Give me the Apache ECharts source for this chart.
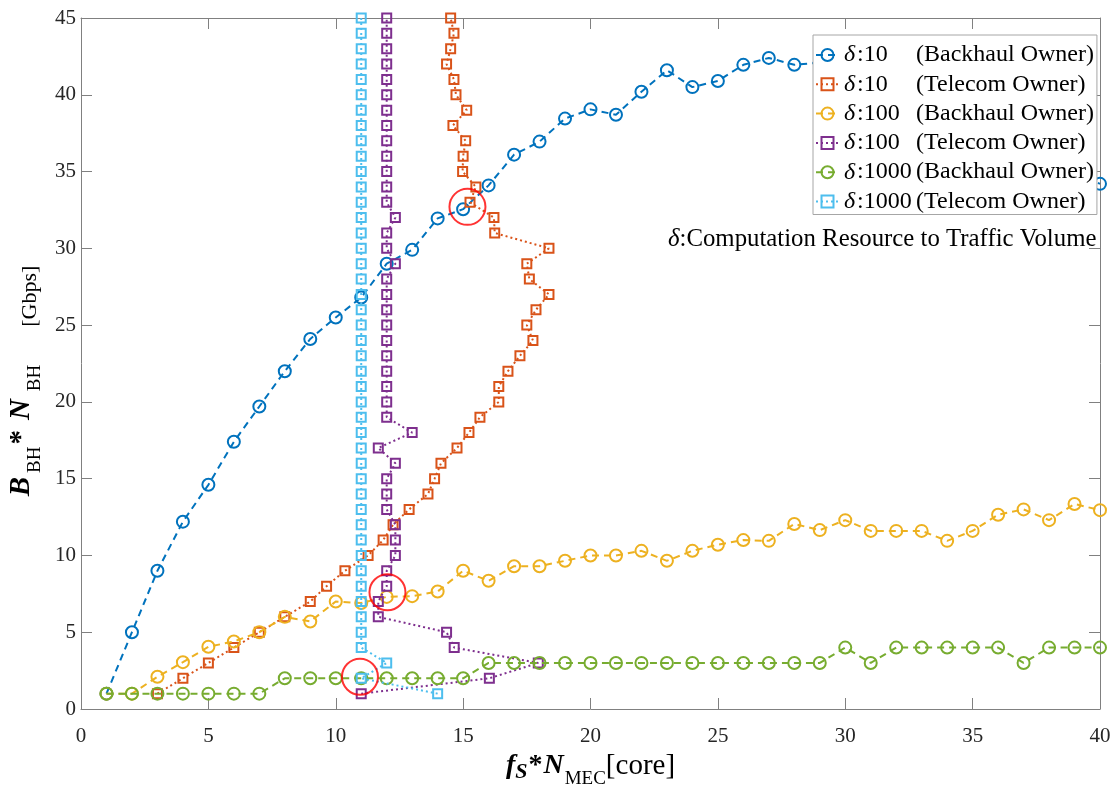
<!DOCTYPE html>
<html>
<head>
<meta charset="utf-8">
<title>Backhaul vs MEC capacity</title>
<script src="https://cdn.jsdelivr.net/npm/echarts@6/dist/echarts.min.js"></script>
<style>
  html, body { margin: 0; padding: 0; background: #ffffff; }
  #chart { width: 1118px; height: 795px; }
</style>
</head>
<body>
<div id="chart"></div>
<script>
// ---- data ---------------------------------------------------------------
// Backhaul-owner curves: backhaul capacity for each MEC core count
const cores = [1, 2, 3, 4, 5, 6, 7, 8, 9, 10, 11, 12, 13, 14, 15, 16, 17, 18, 19, 20,
               21, 22, 23, 24, 25, 26, 27, 28, 29, 30, 31, 32, 33, 34, 35, 36, 37, 38, 39, 40];
const bhDelta10 = [1, 5.0, 9.0, 12.2, 14.6, 17.4, 19.7, 22.0, 24.1, 25.5,
                   26.8, 29.0, 29.9, 31.95, 32.55, 34.1, 36.1, 36.95, 38.45, 39.05,
                   38.7, 40.2, 41.6, 40.5, 40.9, 41.95, 42.4, 41.95, 42.1, 41.8,
                   41.3, 40.6, 39.9, 39.0, 38.2, 37.3, 36.4, 35.6, 34.9, 34.2];
const bhDelta100 = [1, 1, 2.1, 3.05, 4.05, 4.4, 5.0, 6.0, 5.7, 7.0,
                    6.9, 7.3, 7.35, 7.65, 9.0, 8.35, 9.3, 9.3, 9.65, 10.0,
                    10.0, 10.3, 9.65, 10.3, 10.7, 11.0, 10.95, 12.05, 11.65, 12.3,
                    11.6, 11.6, 11.6, 10.95, 11.6, 12.65, 13.0, 12.3, 13.35, 12.95];
const bhDelta1000 = [1, 1, 1, 1, 1, 1, 1, 2, 2, 2,
                     2, 2, 2, 2, 2, 3, 3, 3, 3, 3,
                     3, 3, 3, 3, 3, 3, 3, 3, 3, 4,
                     3, 4, 4, 4, 4, 4, 3, 4, 4, 4];

// Telecom-owner curves: MEC core count chosen for each backhaul capacity level
const bhLevels = [1, 2, 3, 4, 5, 6, 7, 8, 9, 10, 11, 12, 13, 14, 15,
                  16, 17, 18, 19, 20, 21, 22, 23, 24, 25, 26, 27, 28, 29, 30,
                  31, 32, 33, 34, 35, 36, 37, 38, 39, 40, 41, 42, 43, 44, 45];
const telDelta10 = [3, 4, 5, 6, 7, 8, 9, 9.64, 10.36, 11.27,
                    11.86, 12.25, 12.88, 13.62, 13.88, 14.13, 14.76, 15.23, 15.66, 16.4,
                    16.4, 16.76, 17.23, 17.74, 17.5, 17.86, 18.37, 17.6, 17.5, 18.37,
                    16.24, 16.21, 15.27, 15.5, 14.98, 15.0, 15.1, 14.6, 15.14, 14.72,
                    14.64, 14.35, 14.51, 14.64, 14.51];
const telDelta100 = [11, 16.03, 17.95, 14.65, 14.35, 11.67, 11.67, 12, 12, 12.34,
                     12.34, 12.34, 12, 12, 12, 12.34, 11.67, 13.0, 12, 12,
                     12, 12, 12, 12, 12, 12, 12, 12, 12.34, 12,
                     12, 12.34, 12, 12, 12, 12, 12, 12, 12, 12,
                     12, 12, 12, 12, 12];
const telDelta1000 = [14, 11, 12, 11, 11, 11, 11, 11, 11, 11,
                      11, 11, 11, 11, 11, 11, 11, 11, 11, 11,
                      11, 11, 11, 11, 11, 11, 11, 11, 11, 11,
                      11, 11, 11, 11, 11, 11, 11, 11, 11, 11,
                      11, 11, 11, 11, 11];

// Highlighted operating points (circled)
const highlightX = [15.17, 12.03, 10.95];
const highlightY = [32.7, 7.6, 2.1];

const seriesNames = [
  'δ:10 (Backhaul Owner)',
  'δ:10 (Telecom Owner)',
  'δ:100 (Backhaul Owner)',
  'δ:100 (Telecom Owner)',
  'δ:1000 (Backhaul Owner)',
  'δ:1000 (Telecom Owner)'
];
const annotationText = 'Computation Resource to Traffic Volume';

// ---- styling ------------------------------------------------------------
const FONT = "'Liberation Serif', 'Times New Roman', serif";
const colors = ['#0072BD', '#D95319', '#EDB120', '#7E2F8E', '#77AC30', '#4DBEEE'];
const AXIS_GRAY = '#808080';
const DASH = [7, 5];
const DOT = [2, 3];

function zip(xs, ys) { return xs.map((x, i) => [x, ys[i]]); }

function curve(idx, points, owner) {
  const c = colors[idx];
  const backhaul = owner === 'backhaul';
  return {
    name: seriesNames[idx],
    type: 'line',
    xAxisIndex: 0,
    yAxisIndex: 0,
    data: points,
    symbol: backhaul ? 'circle' : 'rect',
    symbolSize: backhaul ? 12 : 9,
    showSymbol: true,
    showAllSymbol: true,
    itemStyle: { color: 'rgba(255,255,255,0)', borderColor: c, borderWidth: 2 },
    lineStyle: { color: c, width: 2, type: backhaul ? DASH : DOT },
    emphasis: { disabled: true },
    z: 2 + idx * 0.1
  };
}

const chart = echarts.init(document.getElementById('chart'), null, { renderer: 'canvas' });

const axisCommon = {
  type: 'value',
  axisLine: { show: true, onZero: false, lineStyle: { color: AXIS_GRAY, width: 1 } },
  axisTick: { show: true, inside: true, length: 11, lineStyle: { color: AXIS_GRAY, width: 1 } },
  splitLine: { show: false },
  minorTick: { show: false }
};

const option = {
  animation: false,
  backgroundColor: '#ffffff',
  grid: { left: 81, right: 18, top: 18, bottom: 86, containLabel: false, outerBoundsMode: 'none' },
  xAxis: [
    Object.assign({}, axisCommon, {
      position: 'bottom',
      min: 0, max: 40, interval: 5,
      axisLabel: { fontSize: 21, color: '#262626', fontFamily: FONT, margin: 17 },
      name: '{bi|f}{s|S}{b|*}{bi|N}{sub|MEC}{u|[core]}',
      nameLocation: 'middle',
      nameGap: 40,
      nameTextStyle: {
        fontFamily: FONT, color: '#000',
        rich: {
          bi: { fontFamily: FONT, fontSize: 28, fontWeight: 'bold', fontStyle: 'italic', lineHeight: 30, verticalAlign: 'top' },
          b: { fontFamily: FONT, fontSize: 28, fontWeight: 'bold', lineHeight: 30, verticalAlign: 'top', padding: [0, 1, 0, 1] },
          s: { fontFamily: FONT, fontSize: 22, fontWeight: 'bold', fontStyle: 'italic', lineHeight: 22, verticalAlign: 'top', padding: [9, 0, 0, 0] },
          sub: { fontFamily: FONT, fontSize: 19, lineHeight: 19, verticalAlign: 'top', padding: [18, 0, 0, 1] },
          u: { fontFamily: FONT, fontSize: 29, lineHeight: 30, verticalAlign: 'top' }
        }
      }
    }),
    Object.assign({}, axisCommon, {
      position: 'top',
      min: 0, max: 40, interval: 5,
      axisLabel: { show: false }
    })
  ],
  yAxis: [
    Object.assign({}, axisCommon, {
      position: 'left',
      min: 0, max: 45, interval: 5,
      axisLabel: { fontSize: 21, color: '#262626', fontFamily: FONT, margin: 5 },
      name: '{bi|B}{sa|BH}{b|*}{bi|N}{sb|BH}{u|[Gbps]}',
      nameLocation: 'middle',
      nameGap: 37,
      nameRotate: 90,
      nameTextStyle: {
        fontFamily: FONT, color: '#000',
        padding: [0, 35, 0, 0],
        rich: {
          bi: { fontFamily: FONT, fontSize: 29, fontWeight: 'bold', fontStyle: 'italic', lineHeight: 30, verticalAlign: 'top' },
          b: { fontFamily: FONT, fontSize: 29, fontWeight: 'bold', lineHeight: 30, verticalAlign: 'top', padding: [0, 10, 0, 2] },
          sa: { fontFamily: FONT, fontSize: 19, lineHeight: 19, verticalAlign: 'top', padding: [18, 0, 0, 4] },
          sb: { fontFamily: FONT, fontSize: 19, lineHeight: 19, verticalAlign: 'top', padding: [18, 0, 0, 8] },
          u: { fontFamily: FONT, fontSize: 22, lineHeight: 22, verticalAlign: 'top', padding: [12, 0, 0, 38] }
        }
      }
    }),
    Object.assign({}, axisCommon, {
      position: 'right',
      min: 0, max: 45, interval: 5,
      axisLabel: { show: false }
    })
  ],
  legend: {
    data: seriesNames,
    orient: 'vertical',
    left: 813,
    top: 35,
    padding: [8, 3, 1, 2],
    itemWidth: 23,
    itemHeight: 15,
    itemGap: 5.3,
    itemTextGap: 4,
    backgroundColor: '#ffffff',
    borderColor: '#a6a6a6',
    borderWidth: 1,
    borderRadius: 0,
    selectedMode: false,
    formatter: function (name) {
      const cut = name.indexOf(' (');
      return '{d|δ}{v|' + name.slice(1, cut) + '}{o|' + name.slice(cut + 1) + '}';
    },
    textStyle: {
      fontFamily: FONT, fontSize: 24, color: '#000', lineHeight: 24,
      rich: {
        d: { fontFamily: FONT, fontSize: 24, fontStyle: 'italic', lineHeight: 24, width: 13 },
        v: { fontFamily: FONT, fontSize: 24, lineHeight: 24, width: 59 },
        o: { fontFamily: FONT, fontSize: 24, lineHeight: 24 }
      }
    }
  },
  graphic: [{
    type: 'text',
    left: 668,
    top: 227,
    z: 100,
    silent: true,
    style: {
      text: '{d|δ}{t|:' + annotationText + '}',
      fill: '#000',
      font: '24.8px ' + FONT,
      rich: {
        d: { fontFamily: FONT, fontSize: 24.8, fontStyle: 'italic', fill: '#000' },
        t: { fontFamily: FONT, fontSize: 24.8, fill: '#000' }
      }
    }
  }],
  series: [
    curve(0, zip(cores, bhDelta10), 'backhaul'),
    curve(1, zip(telDelta10, bhLevels), 'telecom'),
    curve(2, zip(cores, bhDelta100), 'backhaul'),
    curve(3, zip(telDelta100, bhLevels), 'telecom'),
    curve(4, zip(cores, bhDelta1000), 'backhaul'),
    curve(5, zip(telDelta1000, bhLevels), 'telecom'),
    {
      name: 'highlight',
      type: 'scatter',
      data: zip(highlightX, highlightY),
      symbol: 'circle',
      symbolSize: 36,
      itemStyle: { color: 'rgba(255,255,255,0)', borderColor: '#FF0000', borderWidth: 2 },
      emphasis: { disabled: true },
      silent: true,
      z: 5
    }
  ]
};

chart.setOption(option);
</script>
</body>
</html>
